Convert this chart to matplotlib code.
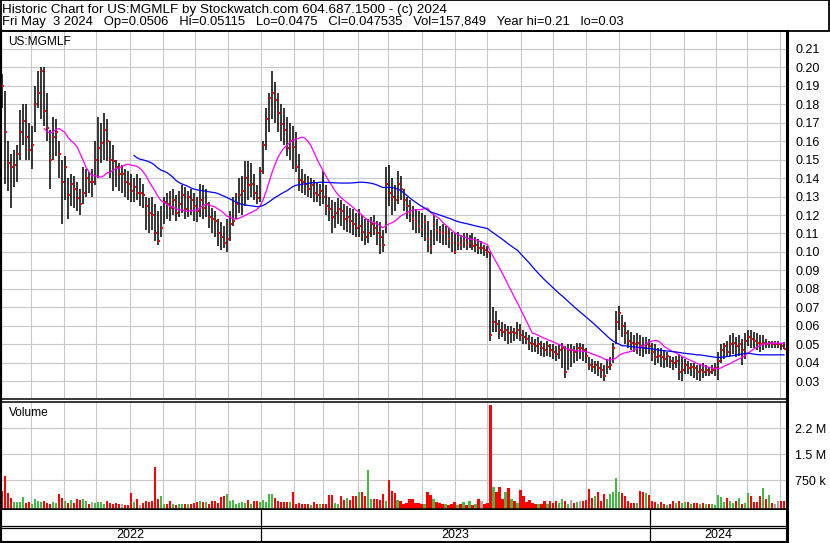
import numpy as np
import pandas as pd
import matplotlib
matplotlib.use("Agg")
import matplotlib.pyplot as plt
from matplotlib.patches import Rectangle

plt.rcParams["font.family"] = ["Liberation Sans", "DejaVu Sans"]

# --- data: one bar per two trading days, May 2022 - May 3 2024 ---
highs = [
    0.196, 0.187, 0.160, 0.153, 0.155, 0.158, 0.177, 0.180, 0.180, 0.170,
    0.168, 0.190, 0.198, 0.200, 0.200, 0.186, 0.166, 0.173, 0.172, 0.160,
    0.150, 0.152, 0.140, 0.142, 0.141, 0.138, 0.134, 0.146, 0.145, 0.143,
    0.145, 0.160, 0.173, 0.170, 0.175, 0.172, 0.160, 0.158, 0.150, 0.148,
    0.147, 0.145, 0.144, 0.142, 0.140, 0.142, 0.140, 0.137, 0.130, 0.129,
    0.130, 0.126, 0.122, 0.125, 0.130, 0.132, 0.133, 0.134, 0.131, 0.133,
    0.136, 0.135, 0.133, 0.134, 0.132, 0.130, 0.137, 0.136, 0.134, 0.127,
    0.124, 0.122, 0.118, 0.116, 0.114, 0.118, 0.122, 0.130, 0.132, 0.140,
    0.141, 0.149, 0.149, 0.148, 0.142, 0.136, 0.146, 0.160, 0.178, 0.186,
    0.198, 0.192, 0.186, 0.180, 0.178, 0.173, 0.170, 0.168, 0.165, 0.153,
    0.145, 0.142, 0.141, 0.140, 0.139, 0.138, 0.137, 0.144, 0.136, 0.130,
    0.128, 0.127, 0.129, 0.128, 0.126, 0.125, 0.124, 0.123, 0.121, 0.123,
    0.120, 0.118, 0.118, 0.119, 0.120, 0.117, 0.116, 0.112, 0.146, 0.147,
    0.140, 0.136, 0.144, 0.141, 0.134, 0.130, 0.128, 0.125, 0.123, 0.122,
    0.121, 0.120, 0.117, 0.112, 0.120, 0.118, 0.114, 0.115, 0.114, 0.113,
    0.111, 0.110, 0.111, 0.109, 0.110, 0.110, 0.109, 0.110, 0.108, 0.107,
    0.106, 0.104, 0.103, 0.100, 0.070, 0.068, 0.063, 0.062, 0.061, 0.060,
    0.060, 0.059, 0.062, 0.061, 0.058, 0.057, 0.055, 0.054, 0.053, 0.054,
    0.052, 0.051, 0.052, 0.050, 0.050, 0.049, 0.050, 0.051, 0.049, 0.050,
    0.050, 0.049, 0.051, 0.051, 0.050, 0.048, 0.043, 0.042, 0.041, 0.041,
    0.040, 0.039, 0.042, 0.043, 0.051, 0.068, 0.071, 0.066, 0.062, 0.058,
    0.057, 0.055, 0.056, 0.055, 0.054, 0.054, 0.053, 0.051, 0.050, 0.048,
    0.048, 0.047, 0.046, 0.044, 0.043, 0.044, 0.045, 0.043, 0.042, 0.041,
    0.040, 0.040, 0.039, 0.039, 0.040, 0.039, 0.038, 0.039, 0.040, 0.046,
    0.050, 0.051, 0.052, 0.055, 0.056, 0.054, 0.055, 0.053, 0.056, 0.058,
    0.058, 0.057, 0.056, 0.055, 0.055, 0.053, 0.052, 0.052, 0.052, 0.052,
    0.051, 0.05115,
]
lows = [
    0.178, 0.137, 0.133, 0.124, 0.135, 0.138, 0.150, 0.158, 0.150, 0.150,
    0.145, 0.165, 0.178, 0.172, 0.168, 0.160, 0.134, 0.150, 0.152, 0.140,
    0.115, 0.128, 0.118, 0.125, 0.124, 0.122, 0.120, 0.126, 0.130, 0.132,
    0.130, 0.136, 0.140, 0.148, 0.150, 0.149, 0.140, 0.133, 0.135, 0.133,
    0.132, 0.130, 0.128, 0.127, 0.127, 0.128, 0.125, 0.124, 0.112, 0.110,
    0.112, 0.106, 0.104, 0.108, 0.115, 0.118, 0.117, 0.120, 0.117, 0.119,
    0.121, 0.118, 0.119, 0.120, 0.117, 0.116, 0.119, 0.118, 0.119, 0.113,
    0.110, 0.108, 0.103, 0.101, 0.102, 0.100, 0.106, 0.114, 0.118, 0.121,
    0.120, 0.125, 0.128, 0.130, 0.128, 0.126, 0.127, 0.142, 0.155, 0.165,
    0.172, 0.170, 0.165, 0.160, 0.158, 0.152, 0.150, 0.145, 0.143, 0.133,
    0.132, 0.131, 0.130, 0.129, 0.127, 0.127, 0.125, 0.126, 0.120, 0.117,
    0.110, 0.113, 0.115, 0.114, 0.112, 0.111, 0.110, 0.109, 0.108, 0.108,
    0.106, 0.104, 0.105, 0.108, 0.109, 0.104, 0.099, 0.100, 0.110, 0.125,
    0.120, 0.122, 0.126, 0.128, 0.122, 0.118, 0.116, 0.112, 0.110, 0.110,
    0.108, 0.106, 0.100, 0.099, 0.104, 0.106, 0.105, 0.104, 0.104, 0.102,
    0.100, 0.099, 0.101, 0.101, 0.102, 0.101, 0.102, 0.101, 0.100, 0.099,
    0.099, 0.098, 0.097, 0.052, 0.057, 0.057, 0.053, 0.054, 0.052, 0.050,
    0.051, 0.052, 0.053, 0.052, 0.050, 0.050, 0.047, 0.046, 0.046, 0.045,
    0.044, 0.043, 0.044, 0.043, 0.042, 0.041, 0.042, 0.037, 0.032, 0.036,
    0.038, 0.040, 0.041, 0.042, 0.041, 0.040, 0.036, 0.035, 0.034, 0.033,
    0.032, 0.030, 0.034, 0.036, 0.040, 0.050, 0.058, 0.054, 0.050, 0.048,
    0.047, 0.046, 0.045, 0.044, 0.043, 0.045, 0.045, 0.041, 0.039, 0.040,
    0.038, 0.037, 0.038, 0.037, 0.036, 0.037, 0.031, 0.030, 0.034, 0.034,
    0.033, 0.032, 0.031, 0.030, 0.032, 0.033, 0.033, 0.034, 0.033, 0.031,
    0.040, 0.042, 0.043, 0.044, 0.045, 0.043, 0.044, 0.039, 0.042, 0.049,
    0.048, 0.048, 0.047, 0.046, 0.047, 0.048, 0.048, 0.048, 0.048, 0.048,
    0.047, 0.0475,
]
closes = [
    0.190, 0.165, 0.148, 0.146, 0.147, 0.153, 0.165, 0.171, 0.162, 0.155,
    0.158, 0.180, 0.186, 0.198, 0.176, 0.167, 0.150, 0.162, 0.165, 0.153,
    0.138, 0.146, 0.131, 0.137, 0.134, 0.129, 0.126, 0.132, 0.140, 0.138,
    0.138, 0.150, 0.156, 0.159, 0.166, 0.160, 0.150, 0.149, 0.146, 0.142,
    0.142, 0.138, 0.137, 0.133, 0.135, 0.132, 0.132, 0.131, 0.125, 0.121,
    0.120, 0.110, 0.106, 0.113, 0.127, 0.126, 0.124, 0.128, 0.121, 0.126,
    0.131, 0.123, 0.130, 0.128, 0.125, 0.122, 0.128, 0.124, 0.126, 0.119,
    0.118, 0.117, 0.110, 0.108, 0.105, 0.107, 0.115, 0.117, 0.126, 0.131,
    0.133, 0.140, 0.136, 0.137, 0.132, 0.129, 0.144, 0.158, 0.172, 0.183,
    0.186, 0.182, 0.175, 0.169, 0.166, 0.156, 0.160, 0.157, 0.146, 0.139,
    0.138, 0.137, 0.134, 0.136, 0.132, 0.131, 0.133, 0.130, 0.125, 0.123,
    0.119, 0.121, 0.123, 0.122, 0.118, 0.119, 0.117, 0.115, 0.113, 0.114,
    0.111, 0.108, 0.110, 0.115, 0.113, 0.110, 0.108, 0.104, 0.137, 0.132,
    0.130, 0.128, 0.137, 0.134, 0.128, 0.125, 0.121, 0.118, 0.117, 0.114,
    0.112, 0.116, 0.107, 0.102, 0.115, 0.112, 0.111, 0.110, 0.111, 0.107,
    0.105, 0.100, 0.105, 0.104, 0.106, 0.104, 0.105, 0.103, 0.104, 0.102,
    0.102, 0.101, 0.100, 0.055, 0.062, 0.061, 0.058, 0.057, 0.058, 0.056,
    0.057, 0.056, 0.058, 0.055, 0.054, 0.053, 0.051, 0.050, 0.049, 0.050,
    0.048, 0.047, 0.049, 0.047, 0.046, 0.045, 0.047, 0.048, 0.035, 0.047,
    0.047, 0.046, 0.048, 0.048, 0.047, 0.044, 0.039, 0.038, 0.039, 0.037,
    0.036, 0.033, 0.038, 0.039, 0.048, 0.062, 0.067, 0.060, 0.056, 0.052,
    0.051, 0.050, 0.051, 0.049, 0.048, 0.050, 0.049, 0.046, 0.043, 0.044,
    0.043, 0.042, 0.044, 0.041, 0.040, 0.041, 0.035, 0.036, 0.039, 0.037,
    0.038, 0.037, 0.035, 0.036, 0.035, 0.036, 0.035, 0.036, 0.037, 0.041,
    0.047, 0.049, 0.046, 0.050, 0.051, 0.049, 0.050, 0.047, 0.052, 0.054,
    0.053, 0.052, 0.051, 0.050, 0.051, 0.050, 0.051, 0.050, 0.050, 0.050,
    0.049, 0.047535,
]
# volume in thousands of shares
volume_k = [
    440, 870, 380, 240, 120, 110, 130, 270, 90, 110,
    70, 200, 150, 130, 160, 90, 80, 120, 100, 350,
    240, 150, 100, 170, 90, 200, 180, 210, 160, 70,
    120, 90, 130, 110, 80, 160, 100, 70, 90, 80,
    60, 50, 40, 380, 130, 200, 50, 90, 150, 120,
    150, 1130, 220, 300, 60, 80, 140, 70, 50, 60,
    70, 80, 60, 70, 90, 110, 140, 120, 110, 80,
    140, 160, 90, 270, 300, 350, 150, 170, 80, 100,
    130, 100, 170, 70, 150, 140, 120, 170, 130, 350,
    350, 250, 150, 130, 110, 120, 130, 410, 80, 100,
    60, 70, 80, 50, 120, 70, 60, 80, 60, 320,
    320, 90, 80, 300, 180, 250, 170, 290, 310, 400,
    400, 300, 1050, 220, 200, 210, 180, 350, 150, 760,
    430, 370, 180, 150, 80, 90, 200, 220, 100, 90,
    70, 70, 400, 320, 200, 130, 90, 70, 60, 50,
    60, 130, 50, 80, 110, 50, 140, 50, 70, 200,
    160, 60, 90, 2920, 560, 420, 560, 200, 400, 520,
    220, 150, 100, 480, 300, 120, 180, 90, 80, 70,
    60, 150, 80, 160, 100, 140, 90, 200, 150, 70,
    170, 90, 110, 140, 150, 180, 500, 250, 300, 420,
    150, 350, 200, 350, 420, 830, 420, 370, 290, 160,
    100, 90, 100, 430, 400, 370, 320, 150, 120, 80,
    110, 60, 50, 80, 140, 90, 150, 90, 110, 120,
    80, 100, 90, 70, 90, 80, 70, 60, 50, 320,
    280, 120, 230, 150, 100, 160, 230, 80, 100, 370,
    290, 110, 130, 290, 520, 200, 320, 100, 60, 140,
    140, 157,
]
price_ticks = [0.03, 0.04, 0.05, 0.06, 0.07, 0.08, 0.09, 0.10, 0.11, 0.12,
               0.13, 0.14, 0.15, 0.16, 0.17, 0.18, 0.19, 0.20, 0.21]
vol_ticks = [750000, 1500000, 2250000]
vol_tick_labels = ["750 k", "1.5 M", "2.2 M"]

title1 = "Historic Chart for US:MGMLF by Stockwatch.com 604.687.1500 - (c) 2024"
title2 = ("Fri May  3 2024   Op=0.0506   Hi=0.05115   Lo=0.0475   Cl=0.047535   "
          "Vol=157,849   Year hi=0.21   lo=0.03")

# --- positions on a weekday axis ---
dates = pd.bdate_range("2022-05-03", "2024-05-03")
xpos = np.arange(1, len(dates), 2)
month_starts = [i - 0.5 for i in range(1, len(dates)) if dates[i].month != dates[i - 1].month]
year_starts = [i - 0.5 for i in range(1, len(dates)) if dates[i].year != dates[i - 1].year]
XLIM = (-0.5, 525)

close_s = pd.Series(closes)
ma_short = close_s.rolling(15).mean()
ma_long = close_s.rolling(45).mean()

prev = np.r_[closes[0] + 1, closes[:-1]]
vcolors = ["#44b944" if c > p else ("#ff0000" if c < p else "#a8a8a8")
           for c, p in zip(closes, prev)]

W, H = 830, 543
fig = plt.figure(figsize=(W / 100, H / 100), dpi=100)


def box(l, t, r, b):
    return [l / W, 1 - b / H, (r - l) / W, (b - t) / H]


GRID = "#c8c8c8"
FS = 9.0

# header
fig.patches.append(Rectangle((0.5 / W, 1 - 31 / H), (W - 1.5) / W, 30.5 / H,
                             transform=fig.transFigure, fill=False,
                             edgecolor="black", lw=1.3))
fig.text(2 / W, 1 - 9.5 / H, title1, fontsize=9.7, va="center", ha="left")
fig.text(2 / W, 1 - 22.5 / H, title2, fontsize=9.4, va="center", ha="left")

# price panel
ax_p = fig.add_axes(box(0, 31, 787, 399))
ax_p.set_xlim(*XLIM)
ax_p.set_ylim(0.0205, 0.2195)
ax_p.set_yticks(price_ticks)
ax_p.set_yticklabels([f"{v:.2f}" for v in price_ticks])
ax_p.set_xticks(month_starts)
ax_p.yaxis.tick_right()
ax_p.tick_params(length=0, pad=6, labelsize=FS, labelbottom=False)
ax_p.grid(True, color=GRID, lw=0.8)
ax_p.set_axisbelow(True)
ax_p.vlines(xpos, lows, highs, color="black", lw=1.1, zorder=2)
ax_p.plot(xpos + 0.6, closes, ls="none", marker="s", ms=1.6, mfc="red",
          mec="red", mew=0, zorder=3)
ax_p.plot(xpos, ma_short, color="#ff00ff", lw=0.9, zorder=4)
ax_p.plot(xpos, ma_long, color="#0000ff", lw=0.9, zorder=4)
ax_p.text(8 / 787, 1 - 11 / 368, "US:MGMLF", transform=ax_p.transAxes,
          fontsize=8.6, va="center", ha="left")

# volume panel
vol_floor = -78e3
ax_v = fig.add_axes(box(0, 402, 787, 509))
ax_v.set_xlim(*XLIM)
ax_v.set_ylim(vol_floor, 3.01e6)
ax_v.bar(xpos, np.array(volume_k) * 1000.0 - vol_floor, bottom=vol_floor,
         width=1.5, color=vcolors, linewidth=0, zorder=2)
ax_v.set_yticks(vol_ticks)
ax_v.set_yticklabels(vol_tick_labels)
ax_v.set_xticks(month_starts)
ax_v.yaxis.tick_right()
ax_v.tick_params(length=0, pad=6, labelsize=FS, labelbottom=False)
ax_v.grid(True, color=GRID, lw=0.8)
ax_v.set_axisbelow(True)
ax_v.text(9 / 787, 1 - 11 / 107, "Volume", transform=ax_v.transAxes,
          fontsize=8.6, va="center", ha="left")

# date strip
ax_d = fig.add_axes(box(0, 510, 787, 542))
ax_d.set_xlim(*XLIM)
ax_d.set_ylim(0, 32)
ax_d.set_xticks([])
ax_d.set_yticks([])
ax_d.axhline(16.3, color="black", lw=0.9)
ax_d.axhline(13.7, color="black", lw=0.9)
for ys in year_starts:
    ax_d.axvline(ys, color="black", lw=0.9)
edges = [XLIM[0]] + year_starts + [XLIM[1]]
for a, b, yr in zip(edges[:-1], edges[1:], [2022, 2023, 2024]):
    ax_d.text((a + b) / 2, 7, str(yr), ha="center", va="center", fontsize=FS)

for ax in (ax_p, ax_v, ax_d):
    ax.spines["left"].set_linewidth(3.0)
    ax.spines["right"].set_linewidth(2.2)
    ax.spines["top"].set_linewidth(1.1)
    ax.spines["bottom"].set_linewidth(1.1)
ax_v.spines["bottom"].set_linewidth(1.8)
ax_d.spines["top"].set_visible(False)
ax_d.spines["bottom"].set_linewidth(1.5)

fig.savefig("out.png", dpi=100)
